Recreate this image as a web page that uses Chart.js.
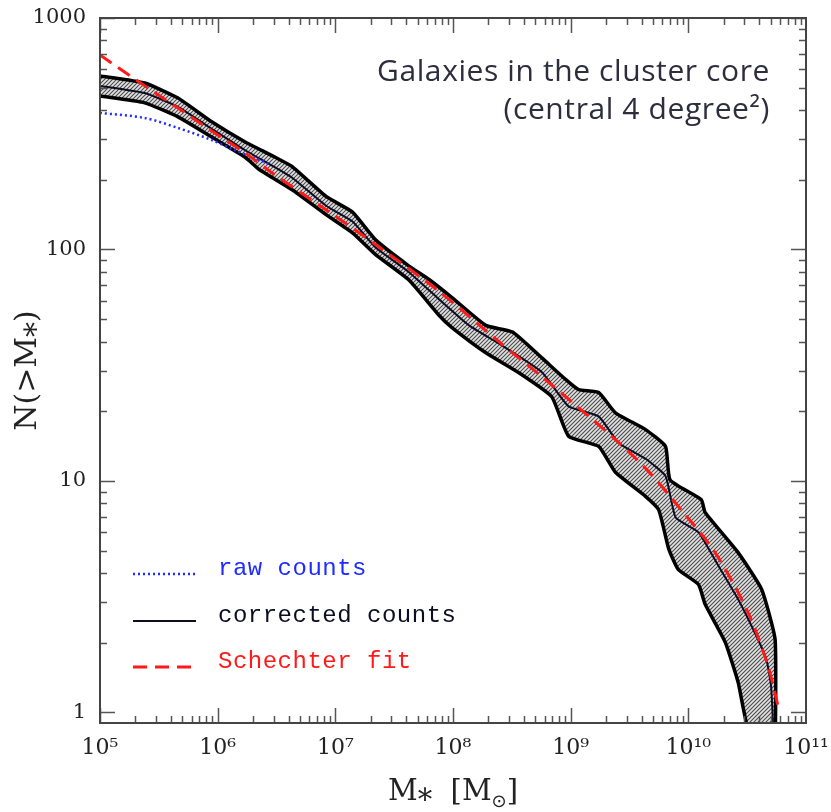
<!DOCTYPE html>
<html>
<head>
<meta charset="utf-8">
<script src="https://cdn.jsdelivr.net/npm/chart.js@4.4.1/dist/chart.umd.min.js"></script>
<style>
  html, body { margin: 0; padding: 0; background: #fff; }
  #wrap { width: 831px; height: 812px; }
</style>
</head>
<body>
<div id="wrap"><canvas id="massFunction"></canvas></div>
<script>
'use strict';

// Cumulative counts N(>M*) against stellar mass [M_sun].
// Upper / lower edges of the hatched uncertainty band
const upperMass = [1.0e5, 2.4e5, 4.6e5, 8.9e5, 1.7e6, 3.0e6, 4.3e6, 8.4e6, 1.4e7, 2.2e7, 4.2e7, 6.3e7, 9.8e7,
    1.9e8, 3.2e8, 5.7e8, 9.1e8, 1.17e9, 1.73e9, 2.4e9, 4.3e9, 6.4e9, 7.0e9, 1.29e10, 1.39e10, 2.65e10,
    4.2e10, 5.46e10, 5.5e10];
const upperN = [562, 524, 451, 356, 292, 252, 228, 169, 145, 110, 85, 74, 62,
    47, 44, 34, 27.4, 24.8, 24.1, 19.7, 16.7, 14.1, 10.1, 8.3, 7.3, 4.9,
    3.4, 2.07, 0.8];

const lowerMass = [1.0e5, 2.4e5, 4.6e5, 8.9e5, 1.7e6, 2.27e6, 4.3e6, 8.4e6, 1.4e7, 2.2e7, 4.2e7, 7.6e7, 9.8e7,
    1.9e8, 3.6e8, 6.9e8, 9.6e8, 1.73e9, 2.4e9, 4.3e9, 5.6e9, 6.8e9, 8.2e9, 1.22e10, 1.39e10, 2.06e10,
    2.65e10, 3.35e10, 5.5e10];
const lowerN = [460, 430, 374, 306, 251, 221, 181, 141, 118, 95, 74, 52, 46,
    35.8, 29.4, 23.1, 15.6, 14.1, 10.9, 8.6, 7.5, 5.1, 4.15, 3.57, 2.93, 2.01,
    1.35, 0.8, 0.8];

// corrected counts (solid line)
const corrMass = [1.0e5, 2.4e5, 4.6e5, 8.9e5, 1.7e6, 3.0e6, 4.3e6, 8.4e6, 1.4e7, 2.2e7, 4.2e7, 7.6e7, 1.37e8,
    2.6e8, 5.7e8, 9.6e8, 1.73e9, 2.55e9, 4.3e9, 6.4e9, 7.8e9, 1.22e10, 1.8e10, 2.65e10, 3.9e10, 4.6e10,
    5.05e10, 5.3e10];
const corrN = [509, 474, 413, 332, 269, 228, 204, 154, 132, 102, 80, 61, 47,
    38.5, 29.5, 21, 19, 14.6, 12.5, 10.5, 6.95, 6.0, 4.3, 3.08, 2.07, 1.70,
    1.30, 0.8];

// raw counts (dotted, only visible below ~3e6 where it leaves the band)
const rawMass = [1.0e5, 2.4e5, 4.6e5, 8.9e5, 1.39e6, 2.76e6];
const rawN = [389, 370, 335, 297, 269, 234];

// Schechter fit (dashed)
const fitMass = [1.0e5, 2.4e5, 4.6e5, 8.9e5, 1.7e6, 2.87e6, 8.4e6, 2.2e7, 7.6e7, 2.6e8, 5.7e8, 1.17e9,
    2.4e9, 4.58e9, 8.7e9, 1.69e10, 3.22e10, 4.76e10, 5.8e10];
const fitN = [692, 509, 408, 325, 262, 215, 148, 105, 66, 39, 28.2, 20.7,
    15.1, 11.0, 7.5, 4.9, 2.7, 1.58, 1.06];

const legendLabels = ['raw counts', 'corrected counts', 'Schechter fit'];
const xDecades = [1e5, 1e6, 1e7, 1e8, 1e9, 1e10, 1e11];
const xTickLabels = ['10\u2075', '10\u2076', '10\u2077', '10\u2078', '10\u2079', '10\u00b9\u2070', '10\u00b9\u00b9'];
const yDecades = [1, 10, 100, 1000];
const yTickLabels = ['1', '10', '100', '1000'];
const noteLines = ['Galaxies in the cluster core', '(central 4 degree\u00b2)'];

const pts = (xs, ys) => xs.map((x, i) => ({ x: x, y: ys[i] }));

function labelFor(value, decades, labels) {
    const i = decades.findIndex(d => Math.abs(Math.log10(value) - Math.log10(d)) < 1e-6);
    return i >= 0 ? labels[i] : '';
}

function minorTicks(decades) {
    const out = [];
    for (let i = 0; i < decades.length - 1; i++) {
        for (let m = 2; m <= 9; m++) out.push(m * decades[i]);
    }
    return out;
}

function hatchPattern(ctx) {
    const c = document.createElement('canvas');
    c.width = 4;
    c.height = 4;
    const g = c.getContext('2d');
    g.fillStyle = '#e2e2e2';
    g.fillRect(0, 0, 4, 4);
    g.strokeStyle = '#4a4a4a';
    g.lineWidth = 1.1;
    g.beginPath();
    g.moveTo(0, 4); g.lineTo(4, 0);
    g.moveTo(-1, 1); g.lineTo(1, -1);
    g.moveTo(3, 5); g.lineTo(5, 3);
    g.stroke();
    return ctx.createPattern(c, 'repeat');
}

// inward tick marks on all four sides plus the box
const frame = {
    id: 'frame',
    afterDatasetsDraw(chart) {
        const { ctx, chartArea: a, scales: { x, y } } = chart;
        ctx.save();
        ctx.strokeStyle = '#555';
        ctx.lineWidth = 1.5;
        ctx.beginPath();
        const xt = xDecades.map(v => [v, 15]).concat(minorTicks(xDecades).map(v => [v, 7]));
        xt.forEach(([v, len]) => {
            const px = Math.round(x.getPixelForValue(v)) + 0.5;
            if (px < a.left || px > a.right) return;
            ctx.moveTo(px, a.bottom); ctx.lineTo(px, a.bottom - len);
            ctx.moveTo(px, a.top); ctx.lineTo(px, a.top + len);
        });
        const yt = yDecades.map(v => [v, 15]).concat(minorTicks(yDecades).map(v => [v, 7]));
        yt.forEach(([v, len]) => {
            const py = Math.round(y.getPixelForValue(v)) + 0.5;
            if (py < a.top || py > a.bottom) return;
            ctx.moveTo(a.left, py); ctx.lineTo(a.left + len, py);
            ctx.moveTo(a.right, py); ctx.lineTo(a.right - len, py);
        });
        ctx.stroke();
        ctx.strokeStyle = '#444';
        ctx.lineWidth = 2;
        ctx.strokeRect(a.left, a.top, a.right - a.left, a.bottom - a.top);
        ctx.restore();
    }
};

// legend inside the plot, note text and the x axis title with its subscript
const extras = {
    id: 'extras',
    afterDraw(chart) {
        const { ctx, chartArea: a } = chart;
        ctx.save();
        const rowY = [574, 621, 667];
        legendLabels.forEach((lab, i) => {
            const ds = chart.data.datasets.find(d => d.label === lab);
            ctx.strokeStyle = ds.borderColor;
            ctx.lineWidth = ds.borderWidth;
            ctx.setLineDash(ds.borderDash || []);
            ctx.beginPath();
            ctx.moveTo(a.left + 33, rowY[i]);
            ctx.lineTo(a.left + 96, rowY[i]);
            ctx.stroke();
            ctx.setLineDash([]);
            ctx.fillStyle = ds.borderColor;
            ctx.font = '24px "Liberation Mono"';
            ctx.letterSpacing = '0.5px';
            ctx.textBaseline = 'alphabetic';
            ctx.textAlign = 'left';
            ctx.fillText(lab, a.left + 118, rowY[i] + 1);
        });

        ctx.fillStyle = '#2d2d3d';
        ctx.font = '30px "Open Sans"';
        ctx.letterSpacing = '0.6px';
        ctx.textAlign = 'right';
        ctx.fillText(noteLines[0], 770, 81);
        ctx.fillText(noteLines[1], 770, 119);
        ctx.letterSpacing = '0px';

        // x axis title: M* [M_sun]
        ctx.fillStyle = '#222';
        ctx.textAlign = 'left';
        const big = '29px "DejaVu Serif"';
        const small = '18px "DejaVu Sans"';
        const parts = [['M\u204e  [M', big, 0], ['\u2299', small, 7], [']', big, 0]];
        let w = 0;
        parts.forEach(p => { ctx.font = p[1]; w += ctx.measureText(p[0]).width; });
        let cx = (a.left + a.right) / 2 - w / 2;
        parts.forEach(p => {
            ctx.font = p[1];
            ctx.fillText(p[0], cx, 800 + p[2]);
            cx += ctx.measureText(p[0]).width;
        });
        ctx.restore();
    }
};

Chart.defaults.font.family = '"DejaVu Serif", serif';
Chart.defaults.color = '#222';

const canvas = document.getElementById('massFunction');
const hatch = hatchPattern(canvas.getContext('2d'));

new Chart(canvas, {
    type: 'line',
    data: {
        datasets: [
            {
                label: 'Schechter fit',
                data: pts(fitMass, fitN),
                borderColor: '#ff1a1a',
                borderWidth: 3,
                borderDash: [14, 8],
                tension: 0.3,
                order: 1
            },
            {
                label: 'raw counts',
                data: pts(rawMass, rawN),
                borderColor: '#1f2bff',
                borderWidth: 2.5,
                borderDash: [2, 3],
                tension: 0.3,
                order: 2
            },
            {
                label: 'corrected counts',
                data: pts(corrMass, corrN),
                borderColor: '#0c0c22',
                borderWidth: 2,
                order: 3
            },
            {
                label: 'upper',
                data: pts(upperMass, upperN),
                borderColor: '#000',
                borderWidth: 3.5,
                backgroundColor: hatch,
                fill: '+1',
                order: 5
            },
            {
                label: 'lower',
                data: pts(lowerMass, lowerN),
                borderColor: '#000',
                borderWidth: 3.5,
                order: 4
            }
        ]
    },
    options: {
        responsive: true,
        maintainAspectRatio: false,
        animation: false,
        elements: { point: { radius: 0 }, line: { tension: 0.15, fill: false } },
        layout: { padding: { top: 18, right: 25, left: 0, bottom: 0 } },
        plugins: {
            legend: { display: false },
            tooltip: { enabled: false }
        },
        scales: {
            x: {
                type: 'logarithmic',
                min: 1e5,
                max: 1e11,
                grid: { display: false, drawTicks: false },
                border: { display: false },
                ticks: {
                    autoSkip: false,
                    maxRotation: 0,
                    padding: 12,
                    font: { size: 22 },
                    callback: v => labelFor(v, xDecades, xTickLabels)
                },
                afterFit: s => { s.height = 89; s.paddingLeft = 0; s.paddingRight = 0; }
            },
            y: {
                type: 'logarithmic',
                min: 0.9,
                max: 1000,
                grid: { display: false, drawTicks: false },
                border: { display: false },
                title: {
                    display: true,
                    text: 'N(>M\u204e)',
                    font: { size: 30 },
                    padding: { top: 10, bottom: 0 }
                },
                ticks: {
                    autoSkip: false,
                    padding: 14,
                    font: { size: 21 },
                    callback: v => labelFor(v, yDecades, yTickLabels)
                },
                afterFit: s => { s.width = 100; s.paddingTop = 0; s.paddingBottom = 0; }
            }
        }
    },
    plugins: [frame, extras]
});
</script>
</body>
</html>
